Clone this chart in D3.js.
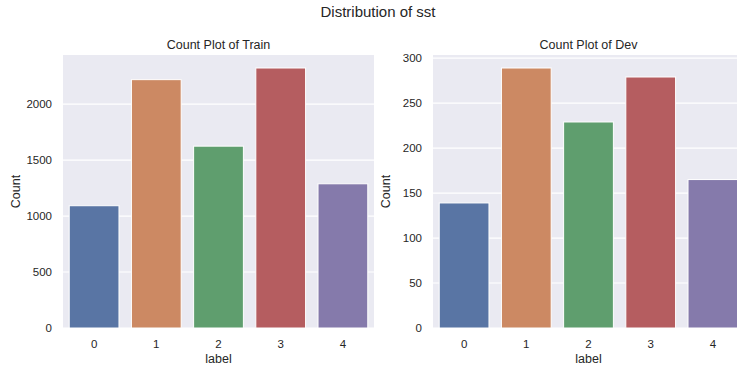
<!DOCTYPE html>
<html>
<head>
<meta charset="utf-8">
<script src="https://cdn.jsdelivr.net/npm/d3@7"></script>
<style>
  html, body { margin: 0; padding: 0; background: #ffffff; }
  svg { display: block; }
  text { font-family: "Liberation Sans", Arial, sans-serif; fill: #262626; }
</style>
</head>
<body>
<svg id="chart" width="737" height="368"></svg>
<script>
// ---- data ----
const categories = ["0", "1", "2", "3", "4"];
const trainCounts = [1092, 2218, 1624, 2322, 1288];
const devCounts = [139, 289, 229, 279, 165];
const trainTicks = [0, 500, 1000, 1500, 2000];
const devTicks = [0, 50, 100, 150, 200, 250, 300];
const barColors = ["#5975a4", "#cc8963", "#5f9e6e", "#b55d60", "#857aab"];
const suptitle = "Distribution of sst";
const panels = [
  { title: "Count Plot of Train", values: trainCounts, ticks: trainTicks, left: 63 },
  { title: "Count Plot of Dev", values: devCounts, ticks: devTicks, left: 433 }
];

(function () {
const svg = d3.select("#chart");
const W = 311, plotTop = 55, plotBottom = 328;

svg.append("text")
  .attr("x", 378).attr("y", 17)
  .attr("text-anchor", "middle")
  .style("font-size", "15px")
  .text(suptitle);

panels.forEach(p => {
  const g = svg.append("g").attr("transform", `translate(${p.left},0)`);
  const x = d3.scaleBand().domain(categories).range([0, W]).paddingInner(0.2).paddingOuter(0.1);
  const ymax = d3.max(p.values) * 1.05;
  const y = d3.scaleLinear().domain([0, ymax]).range([plotBottom, plotTop]);

  g.append("rect").attr("x", 0).attr("y", plotTop).attr("width", W).attr("height", plotBottom - plotTop)
    .attr("fill", "#eaeaf2");

  g.selectAll("line.grid").data(p.ticks).enter().append("line")
    .attr("class", "grid")
    .attr("x1", 0).attr("x2", W)
    .attr("y1", d => y(d)).attr("y2", d => y(d))
    .attr("stroke", "#ffffff").attr("stroke-width", 1.2);

  g.selectAll("rect.bar").data(p.values).enter().append("rect")
    .attr("class", "bar")
    .attr("x", (d, i) => x(categories[i]))
    .attr("width", x.bandwidth())
    .attr("y", d => y(d))
    .attr("height", d => y(0) - y(d))
    .attr("fill", (d, i) => barColors[i])
    .attr("stroke", "#ffffff").attr("stroke-width", 1);

  g.selectAll("text.ytick").data(p.ticks).enter().append("text")
    .attr("class", "ytick")
    .attr("x", -11).attr("y", d => y(d))
    .attr("dy", "0.35em")
    .attr("text-anchor", "end")
    .style("font-size", "11.5px")
    .text(d => d);

  g.selectAll("text.xtick").data(categories).enter().append("text")
    .attr("class", "xtick")
    .attr("x", d => x(d) + x.bandwidth() / 2).attr("y", 347.5)
    .attr("text-anchor", "middle")
    .style("font-size", "11.5px")
    .text(d => d);

  g.append("text")
    .attr("x", W / 2).attr("y", 362.5)
    .attr("text-anchor", "middle")
    .style("font-size", "12.5px")
    .text("label");

  g.append("text")
    .attr("transform", `translate(${-43},${(plotTop + plotBottom) / 2}) rotate(-90)`)
    .attr("text-anchor", "middle")
    .style("font-size", "12.5px")
    .text("Count");

  g.append("text")
    .attr("x", W / 2).attr("y", 49)
    .attr("text-anchor", "middle")
    .style("font-size", "12.5px")
    .text(p.title);
});
})();
</script>
</body>
</html>
